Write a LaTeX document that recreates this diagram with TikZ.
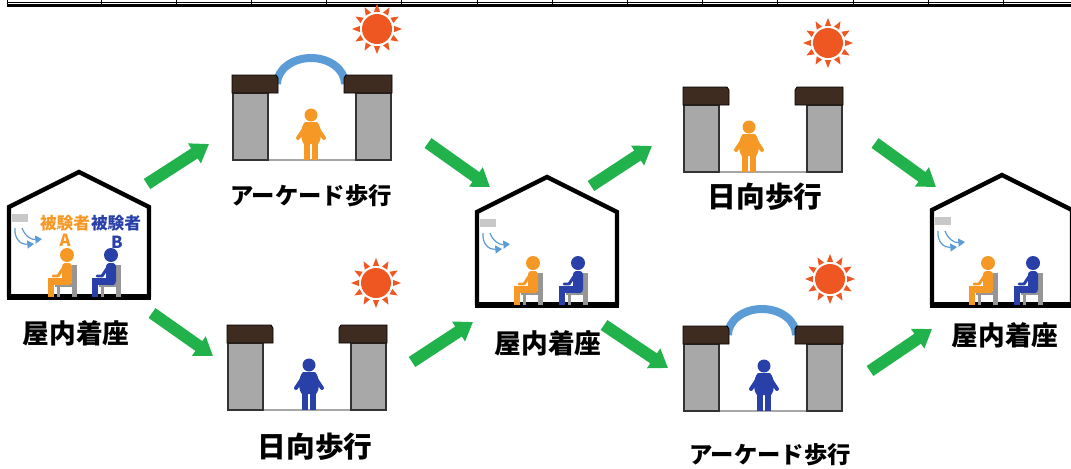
\documentclass[tikz,border=0pt]{standalone}
\usepackage{fontspec}
\newfontfamily\jpfont{Noto Sans CJK JP}
\usetikzlibrary{arrows.meta}
\definecolor{walkgreen}{RGB}{34,178,76}
\definecolor{subjorange}{RGB}{245,152,38}
\definecolor{subjblue}{RGB}{40,64,168}
\definecolor{sunred}{RGB}{238,86,34}
\definecolor{capbrown}{RGB}{62,44,32}
\definecolor{pillargray}{RGB}{168,168,168}
\definecolor{archblue}{RGB}{92,156,214}
\definecolor{chairgray}{RGB}{150,150,150}
\definecolor{acgray}{RGB}{200,200,200}
\tikzset{
  housewall/.style={draw=black, line width=3.2pt, line join=miter},
  housefloor/.style={draw=black, line width=4pt},
  airflow/.style={draw=archblue, line width=0.9pt, -{Triangle[width=6pt,length=5pt]}},
  capblock/.style={fill=capbrown, draw=black, line width=0.6pt},
  pillar/.style={fill=pillargray, draw=black!80, line width=0.8pt},
  ground/.style={draw=black!35, line width=2.2pt},
  arch/.style={draw=archblue, line width=6pt},
  walk/.style={draw=walkgreen, line width=9pt, -{Triangle[width=17pt,length=13pt]}},
  homelabel/.style={inner sep=0pt, font={\jpfont\bfseries\fontsize{20}{24}\selectfont}},
  sunlabel/.style={inner sep=0pt, font={\jpfont\bfseries\fontsize{21.5}{25}\selectfont}},
  arcadelabel/.style={inner sep=0pt, font={\jpfont\bfseries\fontsize{17.5}{21}\selectfont}},
  subject/.style={inner sep=0pt, font={\jpfont\bfseries\fontsize{12.5}{15}\selectfont}},
}

% house outline with the air conditioner: left x, eave y, floor y
\newcommand{\housepic}[3]{%
  \draw[housewall] (#1,#3) -- (#1,#2) -- ({#1+70},{#2-35}) -- ({#1+140},#2) -- ({#1+140},#3);
  \draw[housefloor] ({#1-2},#3) -- ({#1+142},#3);
  \fill[acgray] ({#1+3},{#2+7}) rectangle ({#1+19},{#2+15});
  \draw[airflow] ({#1+6},{#2+21}) .. controls ({#1+5},{#2+32}) and ({#1+12},{#2+38}) .. ({#1+25},{#2+37});
  \draw[airflow] ({#1+13},{#2+21}) .. controls ({#1+16},{#2+29}) and ({#1+22},{#2+33}) .. ({#1+33},{#2+32});
}

% seated subject on a chair: head x, floor y, colour
\newcommand{\seatedfig}[3]{%
  \begin{scope}[shift={(#1,#2)}]
    \fill[chairgray] (5,-32) rectangle (10,0);
    \fill[chairgray] (-12,-14) rectangle (10,-10);
    \fill[chairgray] (-10,-10) rectangle (-7,0);
    \fill[#3] (0,-42) circle[radius=7];
    \fill[#3, rounded corners=2.5pt] (-5,-34) rectangle (5,-12);
    \fill[#3] (-19,-19) rectangle (3,-12);
    \fill[#3] (-19,-19) rectangle (-13,0);
    \draw[#3, line width=2.2pt, line cap=round, line join=round] (-3,-30) -- (-9,-21) -- (-14,-21);
  \end{scope}}

% standing subject: centre x, floor y, colour
\newcommand{\standfig}[3]{%
  \begin{scope}[shift={(#1,#2)}]
    \fill[#3] (0,-45) circle[radius=6.5];
    \draw[#3, line width=3pt, line cap=round] (-5,-34) -- (-13,-22);
    \draw[#3, line width=3pt, line cap=round] (5,-34) -- (13,-22);
    \fill[#3] (-6,-38) .. controls (-11,-33) and (-11,-20) .. (-7,-16) -- (7,-16)
      .. controls (11,-20) and (11,-33) .. (6,-38) -- cycle;
    \fill[#3] (-7,-17) rectangle (-0.8,0);
    \fill[#3] (0.8,-17) rectangle (7,0);
  \end{scope}}

% two pillars with their caps: top-left corner of the left cap
\newcommand{\gatepic}[2]{%
  \begin{scope}[shift={(#1,#2)}]
    \draw[ground] (36,85) -- (124,85);
    \filldraw[pillar] (1,18) rectangle (36,85);
    \filldraw[pillar] (124,18) rectangle (159,85);
    \filldraw[capblock] (0,0) -- (44,0) -- (46,3) -- (46,18) -- (0,18) -- cycle;
    \filldraw[capblock] (114,0) -- (160,0) -- (160,18) -- (112,18) -- (112,3) -- cycle;
  \end{scope}}

% arcade roof between the caps
\newcommand{\archpic}[2]{%
  \draw[arch] ({#1+45},{#2+9}) arc[start angle=180, end angle=360, x radius=34, y radius=26];}

% sun
\newcommand{\sunpic}[2]{%
  \begin{scope}[shift={(#1,#2)}]
    \fill[sunred] (0,0) circle[radius=15];
    \foreach \a in {0,30,...,330}
      \fill[sunred] (\a:25) -- (\a+10:17.5) -- (\a-10:17.5) -- cycle;
  \end{scope}}

\begin{document}
\begin{tikzpicture}[x=0.75pt, y=-0.75pt]
\useasboundingbox (0,0) rectangle (1071,468);

%Table rule
\draw[line width=0.6pt] (7,2.3) -- (1071,2.3);
\draw[line width=1.8pt] (7,5.3) -- (1071,5.3);
\draw[line width=0.6pt] (7,0) -- (7,5);
\foreach \k in {0,...,12}
  \draw[line width=0.6pt] ({101+75.2*\k},0) -- ({101+75.2*\k},4);

%Houses
\housepic{9}{207}{297}
\housepic{477}{212}{305}
\housepic{932}{210}{305}
\node[subject, text=subjorange] (subjA) at (65,223) {被験者};
\node[subject, text=subjblue] (subjB) at (116,223) {被験者};
\node[subject, text=subjorange] (markA) at (65,240) {A};
\node[subject, text=subjblue] (markB) at (117,242) {B};
\seatedfig{67}{297}{subjorange}
\seatedfig{111}{297}{subjblue}
\seatedfig{533}{305}{subjorange}
\seatedfig{578}{305}{subjblue}
\seatedfig{988}{305}{subjorange}
\seatedfig{1033}{305}{subjblue}

%Walks
\archpic{232}{75}
\gatepic{232}{75}
\standfig{311}{160}{subjorange}
\gatepic{683}{87}
\standfig{749}{172}{subjorange}
\gatepic{227}{325}
\standfig{309}{410}{subjblue}
\archpic{683}{326}
\gatepic{683}{326}
\standfig{764}{411}{subjblue}
\sunpic{377}{29}
\sunpic{828}{43}
\sunpic{376}{283}
\sunpic{830}{279}

%Labels
\node[homelabel] (home1) at (76,333) {屋内着座};
\node[homelabel] (home2) at (548,343) {屋内着座};
\node[homelabel] (home3) at (1005,335) {屋内着座};
\node[arcadelabel] (arcade1) at (311,196) {アーケード歩行};
\node[sunlabel] (sunny1) at (765,197) {日向歩行};
\node[sunlabel] (sunny2) at (315,447) {日向歩行};
\node[arcadelabel] (arcade2) at (770,455) {アーケード歩行};

%Arrows
\coordinate (h1up) at (147,184);   \coordinate (a1in) at (209,144);
\coordinate (h1dn) at (152,313);   \coordinate (s2in) at (213,356);
\coordinate (a1out) at (428,143);  \coordinate (h2top) at (490,187);
\coordinate (s2out) at (412,362);  \coordinate (h2bot) at (473,322);
\coordinate (h2up) at (591,186);   \coordinate (s1in) at (652,146);
\coordinate (h2dn) at (604,325);   \coordinate (a2in) at (668,368);
\coordinate (s1out) at (875,143);  \coordinate (h3top) at (936,187);
\coordinate (a2out) at (870,371);  \coordinate (h3bot) at (932,329);
\draw[walk] (h1up) -- (a1in);
\draw[walk] (h1dn) -- (s2in);
\draw[walk] (a1out) -- (h2top);
\draw[walk] (s2out) -- (h2bot);
\draw[walk] (h2up) -- (s1in);
\draw[walk] (h2dn) -- (a2in);
\draw[walk] (s1out) -- (h3top);
\draw[walk] (a2out) -- (h3bot);
\end{tikzpicture}
\end{document}
